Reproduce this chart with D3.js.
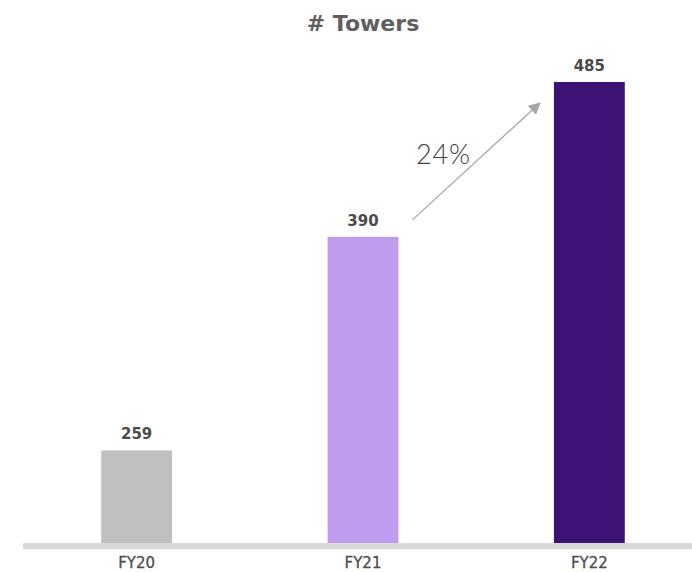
<!DOCTYPE html>
<html lang="en">
<head>
<meta charset="UTF-8"/>
<title># Towers</title>
<script src="https://d3js.org/d3.v7.min.js"></script>
<style>
  body { margin: 0; background: #fff; }
  svg text { font-family: "DejaVu Sans", "Open Sans", sans-serif; }
</style>
</head>
<body>
<script>
var years = ["FY20", "FY21", "FY22"];
var towers = [259, 390, 485];
var barColors = ["#bfbfbf", "#bf9cee", "#3c1374"];
var growthLabel = "24%";

var w = 692;
var h = 572;
var baseY = 545;

var svg = d3.select("body")
            .append("svg")
            .attr("width", w)
            .attr("height", h);

var xScale = d3.scaleBand()
               .domain(years)
               .range([22, 704])
               .paddingInner(0.687)
               .paddingOuter(0.35);

var yScale = d3.scaleLinear()
               .domain([201, 485])
               .range([baseY, 82]);

// title
svg.append("text")
   .attr("x", 363)
   .attr("y", 31)
   .attr("text-anchor", "middle")
   .style("font-size", "22px")
   .style("font-weight", "700")
   .style("fill", "#5f5f5f")
   .text("# Towers");

// bars
svg.selectAll("rect.bar")
   .data(towers)
   .enter()
   .append("rect")
   .attr("class", "bar")
   .attr("x", function(d, i) { return xScale(years[i]); })
   .attr("y", function(d) { return yScale(d); })
   .attr("width", xScale.bandwidth())
   .attr("height", function(d) { return baseY - yScale(d); })
   .style("fill", function(d, i) { return barColors[i]; });

// value labels
svg.selectAll("text.val")
   .data(towers)
   .enter()
   .append("text")
   .attr("class", "val")
   .attr("x", function(d, i) { return xScale(years[i]) + xScale.bandwidth() / 2; })
   .attr("y", function(d) { return yScale(d) - 11; })
   .attr("text-anchor", "middle")
   .style("font-size", "15px")
   .style("font-weight", "700")
   .style("fill", "#4a4a4a")
   .text(function(d) { return d; });

// baseline band
svg.append("rect")
   .attr("x", 23)
   .attr("y", baseY - 2)
   .attr("width", w - 23)
   .attr("height", 6)
   .style("fill", "#d9d9d9");

// category labels
svg.selectAll("text.cat")
   .data(years)
   .enter()
   .append("text")
   .attr("class", "cat")
   .attr("x", function(d) { return xScale(d) + xScale.bandwidth() / 2; })
   .attr("y", 568)
   .attr("text-anchor", "middle")
   .style("font-size", "15px")
   .style("fill", "#4d4d4d")
   .style("stroke", "#4d4d4d")
   .style("stroke-width", 0.3)
   .text(function(d) { return d; });

// growth arrow
var defs = svg.append("defs");
defs.append("marker")
    .attr("id", "head")
    .attr("viewBox", "0 0 10 10")
    .attr("refX", 9)
    .attr("refY", 5)
    .attr("markerWidth", 15)
    .attr("markerHeight", 12)
    .attr("markerUnits", "userSpaceOnUse")
    .attr("orient", "auto")
    .append("path")
    .attr("d", "M0,0 L10,5 L0,10 Z")
    .style("fill", "#a6a6a6");

var x1 = xScale("FY21") + xScale.bandwidth() + 14;
var y1 = yScale(towers[1]) - 17;
var x2 = xScale("FY22") - 14;
var y2 = yScale(towers[2]) + 21;

svg.append("line")
   .attr("x1", x1).attr("y1", y1)
   .attr("x2", x2).attr("y2", y2)
   .style("stroke", "#a6a6a6")
   .style("stroke-width", 1.3)
   .attr("marker-end", "url(#head)");

svg.append("text")
   .attr("x", 416)
   .attr("y", 164)
   .style("font-family", "Lato, sans-serif")
   .style("font-size", "27px")
   .style("font-weight", "300")
   .style("letter-spacing", "0.8px")
   .style("fill", "#404040")
   .text(growthLabel);
</script>
</body>
</html>
